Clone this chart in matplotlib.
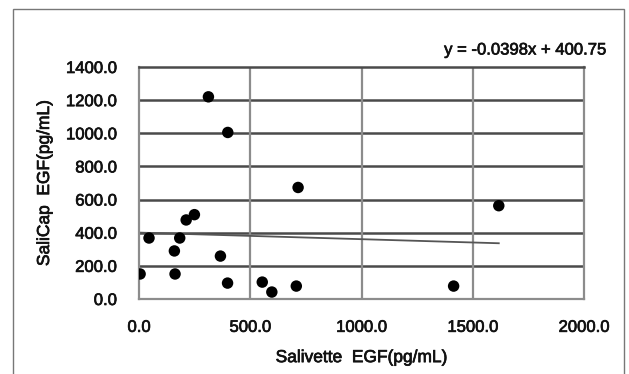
import matplotlib
matplotlib.use("Agg")
from matplotlib import pyplot as plt
from matplotlib.patches import Rectangle
import matplotlib.patheffects as pe
import numpy as np

# Salivette vs SaliCap EGF (pg/mL)
salivette = [312, 399, 715, 249, 212, 45, 183, 159, 366, 5, 162, 398, 554, 597, 707, 1414, 1617]
salicap = [1220, 1005, 673, 509, 477, 368, 368, 290, 259, 151, 151, 96, 102, 42, 78, 78, 563]

slope = -0.0398
intercept = 400.75

xticks = [0, 500, 1000, 1500, 2000]
yticks = [0, 200, 400, 600, 800, 1000, 1200, 1400]

plt.rcParams["font.family"] = ["Liberation Sans", "DejaVu Sans"]
TXT = "#111111"
heavy = [pe.withStroke(linewidth=0.5, foreground=TXT)]

W, H = 629, 374
fig = plt.figure(figsize=(W / 100, H / 100), dpi=100)
fig.patches.append(Rectangle((13 / W, -0.05), (624 - 13) / W, 1 - 9 / H + 0.05,
                             transform=fig.transFigure, fill=False,
                             edgecolor="#777777", linewidth=1.0))

ax = fig.add_axes([139 / W, 1 - 299 / H, (584 - 139) / W, (299 - 67) / H])
ax.set_xlim(0, 2000)
ax.set_ylim(0, 1400)
ax.set_xticks(xticks)
ax.set_yticks(yticks)
ax.set_xticklabels([f"{v:.1f}" for v in xticks])
ax.set_yticklabels([f"{v:.1f}" for v in yticks])
ax.tick_params(length=0, labelsize=12, colors=TXT)
ax.tick_params(axis="x", pad=15)
ax.tick_params(axis="y", pad=16)
for lab in ax.get_xticklabels() + ax.get_yticklabels():
    lab.set_path_effects(heavy)

for v in yticks[1:-1]:
    ax.axhline(v, color="#4a4a4a", linewidth=1.8, zorder=1)
for v in xticks[1:-1]:
    ax.axvline(v, color="#8c8c8c", linewidth=1.6, zorder=1)
for side in ["left", "bottom", "right"]:
    ax.spines[side].set_color("#8c8c8c")
    ax.spines[side].set_linewidth(1.6)
ax.spines["top"].set_color("#4a4a4a")
ax.spines["top"].set_linewidth(1.8)

xs = np.array([min(salivette), max(salivette)])
ax.plot(xs, slope * xs + intercept, color="#555555", linewidth=1.3, zorder=2)
ax.scatter(salivette, salicap, s=68, color="black", zorder=3, edgecolors="none")

ax.set_xlabel("Salivette  EGF(pg/mL)", fontsize=12.5, labelpad=11, color=TXT,
              path_effects=heavy)
ax.set_ylabel("SaliCap  EGF(pg/mL)", fontsize=12.5, labelpad=10, color=TXT,
              path_effects=heavy)

fig.text(606 / W, 1 - 50 / H, f"y = {slope:.4f}x + {intercept:.2f}",
         ha="right", va="center", fontsize=12, color=TXT, path_effects=heavy)

fig.savefig("out.png", dpi=100)
